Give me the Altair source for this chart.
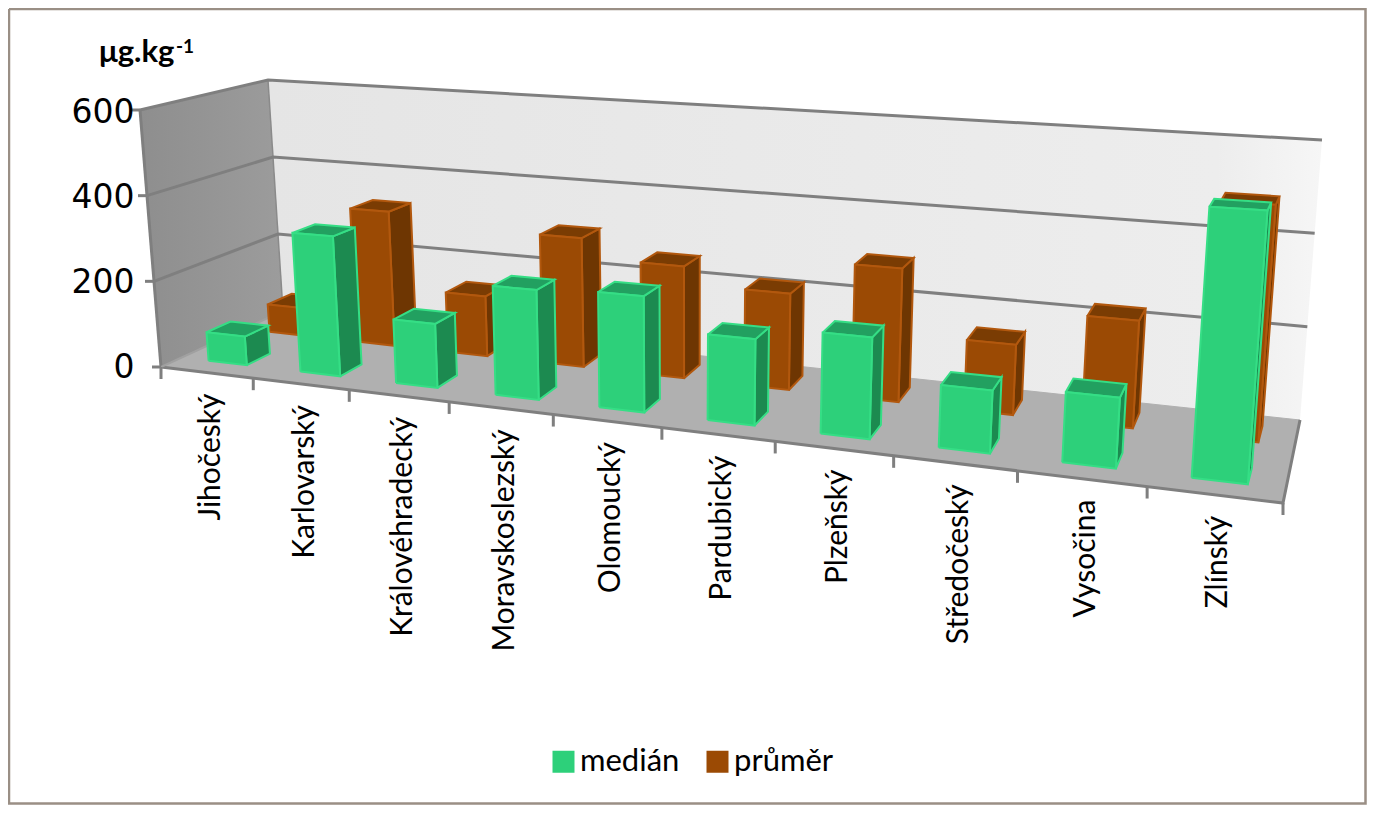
import altair as alt
import pandas as pd

categories = ["Jihočeský", "Karlovarský", "Královéhradecký", "Moravskoslezský", "Olomoucký",
              "Pardubický", "Plzeňský", "Středočeský", "Vysočina", "Zlínský"]
median = [67, 320, 143, 240, 248, 180, 207, 125, 137, 515]
prumer = [68, 325, 142, 300, 255, 215, 292, 150, 225, 485]
y_ticks = [0, 200, 400, 600]
series_names = ["medián", "průměr"]
series_colors = ["#2DD07A", "#9B4A04"]

W, H = 1359, 797
# corners of the 3D box on the page: (across, depth, value)
C = {(0, 0, 0): (161, 367), (1, 0, 0): (1283, 503), (0, 1, 0): (283, 311), (1, 1, 0): (1300, 420),
     (0, 0, 1): (140, 110), (1, 0, 1): (1308, 173), (0, 1, 1): (268, 80), (1, 1, 1): (1322, 140)}
K = 1.24
VMAX = 600.0


def persp(u):
    return u / (u + K * (1 - u))


def P(u, d, v):
    a = persp(u)
    t = v / VMAX
    x = y = 0.0
    for (i, j, l), (cx, cy) in C.items():
        w = (a if i else 1 - a) * (d if j else 1 - d) * (t if l else 1 - t)
        x += w * cx
        y += w * cy
    return x, y


def to_v(py):
    return (367 - py) * 600 / 255


rows = []
pid = [0]


def add(points, fill, stroke, sw, closed=True):
    pid[0] += 1
    pts = list(points) + ([points[0]] if closed else [])
    for k, (x, y) in enumerate(pts):
        rows.append({"pid": pid[0], "k": k, "x": x, "y": to_v(y), "fill": fill, "stroke": stroke, "sw": sw})


GRID = "#7F7F7F"
# floor
add([P(0, 0, 0), P(1, 0, 0), P(1, 1, 0), P(0, 1, 0)], "#B0B0B0", "#B0B0B0", 1)
# gridlines
add([P(0, 1, 0), P(0, 1, 600)], "transparent", "#8A8A8A", 1.5, closed=False)
for v in [200, 400, 600]:
    add([P(0, 0, v), P(0, 1, v), P(1, 1, v)], "transparent", GRID, 3, closed=False)
# axes
add([P(0, 0, 0), P(0, 0, 600)], "transparent", GRID, 3, closed=False)
add([P(0, 0, 0), P(1, 0, 0), P(1, 1, 0)], "transparent", GRID, 3, closed=False)
add([P(0, 1, 0), P(0, 0, 0)], "transparent", "#A0A0A0", 2, closed=False)
for v in y_ticks:
    x, y = P(0, 0, v)
    add([(x - 9, y), (x, y)], "transparent", GRID, 3, closed=False)
for i in range(len(categories) + 1):
    x, y = P(i / len(categories), 0, 0)
    add([(x, y), (x, y + 12)], "transparent", GRID, 3, closed=False)


def bar(i, val, d0, d1, front, side, top, edge):
    n = len(categories)
    u0, u1 = (i + 0.30) / n, (i + 0.72) / n
    add([P(u1, d0, 0), P(u1, d1, 0), P(u1, d1, val), P(u1, d0, val)], side, edge, 2)
    add([P(u0, d0, val), P(u1, d0, val), P(u1, d1, val), P(u0, d1, val)], top, edge, 2)
    add([P(u0, d0, 0), P(u1, d0, 0), P(u1, d0, val), P(u0, d0, val)], front, edge, 2)


for i, val in enumerate(prumer):
    bar(i, val, 0.68, 0.88, "#9B4A04", "#6E3602", "#7A3C03", "#B2580E")
for i, val in enumerate(median):
    bar(i, val, 0.17, 0.37, "#2DD07A", "#1C8A50", "#22A060", "#35DE85")

# slide frame, kept inside the drawable page
add([(9, 9), (9, 803.5), (1365.5, 803.5), (1365.5, 9), (9, 9)], "transparent", "#9A8F85", 2.5, closed=False)

df = pd.DataFrame(rows)
xs = alt.Scale(domain=[8, 8 + W], range=[0, W], nice=False, zero=False)
ys = alt.Scale(domain=[to_v(8 + H), to_v(8)], range=[H, 0], nice=False, zero=False)
YAX = alt.Axis(values=y_ticks, domain=False, ticks=False, grid=False, title=None, offset=-126, labelPadding=0,
               labelFont="DejaVu Sans", labelFontSize=33, labelColor="black", format="d", zindex=1)
X = alt.X("x:Q", scale=xs, axis=None)
Y = alt.Y("y:Q", scale=ys, axis=YAX)


def wall(points, stops):
    pts = list(points) + [points[0]]
    d = pd.DataFrame([{"k": k, "x": p[0], "y": to_v(p[1])} for k, p in enumerate(pts)])
    return alt.Chart(d).mark_line(
        strokeWidth=0,
        fill=alt.Gradient(gradient="linear", x1=0, y1=0, x2=1, y2=0,
                          stops=[alt.GradientStop(offset=o, color=c) for o, c in stops])
    ).encode(x=X, y=Y, order="k:Q")


left_wall = wall([P(0, 0, 0), P(0, 1, 0), P(0, 1, 600), P(0, 0, 600)],
                 [(0, "#8E8E8E"), (1, "#9C9C9C")])
back_wall = wall([P(0, 1, 0), P(1, 1, 0), P(1, 1, 600), P(0, 1, 600)],
                 [(0, "#E5E5E5"), (0.9, "#EDEDED"), (1, "#F6F6F6")])

polys = alt.Chart(df).mark_line().encode(
    x=X, y=Y, order="k:Q", detail="pid:N",
    fill=alt.Fill("fill:N", scale=None),
    stroke=alt.Stroke("stroke:N", scale=None),
    strokeWidth=alt.StrokeWidth("sw:Q", scale=None),
)

n = len(categories)
lab = pd.DataFrame([{"t": c,
                     "x": P((i + .5) / n, 0, 0)[0] + 4,
                     "y": to_v(P((i + .5) / n, 0, 0)[1] + 21)} for i, c in enumerate(categories)])
labels = alt.Chart(lab).mark_text(angle=270, align="right", baseline="middle", font="Lato",
                                  fontSize=30, color="black").encode(x=X, y=Y, text="t:N")

legend_layer = alt.Chart(pd.DataFrame({"s": series_names})).mark_square(size=1, opacity=0).encode(
    x=alt.value(0), y=alt.value(0),
    color=alt.Color("s:N", scale=alt.Scale(domain=series_names, range=series_colors),
                    legend=alt.Legend(orient="none", legendX=540, legendY=738, direction="horizontal", title=None,
                                      symbolType="square", symbolSize=484, symbolOpacity=1, labelOffset=1,
                                      labelFont="Lato", labelFontSize=31, labelColor="black", columnPadding=22)))

unit = alt.Chart(pd.DataFrame({"t": ["μg.kg"], "x": [99], "y": [to_v(62)]})).mark_text(
    align="left", baseline="alphabetic", font="Lato", fontWeight="bold", fontSize=31, color="black"
).encode(x=X, y=Y, text="t:N")
unit2 = alt.Chart(pd.DataFrame({"t": ["-1"], "x": [176], "y": [to_v(53)]})).mark_text(
    align="left", baseline="alphabetic", font="Lato", fontWeight="bold", fontSize=19, color="black"
).encode(x=X, y=Y, text="t:N")

chart = alt.layer(left_wall, back_wall, polys, labels, legend_layer, unit, unit2).resolve_scale(
    color="independent"
).properties(
    width=W, height=H, padding=0, autosize=alt.AutoSizeParams(type="none"), background="white"
).configure_view(stroke=None)

chart.save("out.html", embed_options={"renderer": "svg", "actions": False})
